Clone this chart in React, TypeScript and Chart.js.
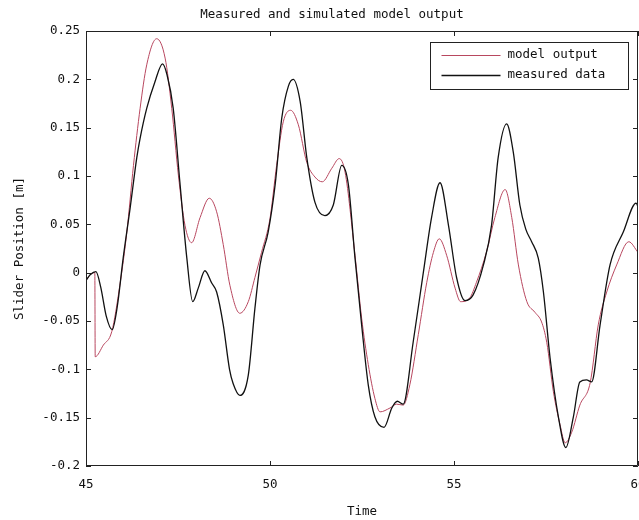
import React, { useEffect, useRef } from "react";
import { Chart, registerables } from "chart.js";

Chart.register(...registerables);

const titleText = "Measured and simulated model output";
const xTitle = "Time";
const yTitle = "Slider Position [m]";
const seriesLabels = ["model output", "measured data"];
const seriesColors = ["#b8475f", "#111111"];

const xTickValues = [45, 50, 55, 60];
const yTickValues = [-0.2, -0.15, -0.1, -0.05, 0, 0.05, 0.1, 0.15, 0.2, 0.25];

const measuredTime = [
  45.0, 45.12, 45.27, 45.4, 45.55, 45.71, 45.85, 46.01, 46.2, 46.38, 46.47, 46.65, 46.87, 47.08, 47.2,
  47.37, 47.55, 47.74, 47.9, 48.05, 48.23, 48.42, 48.55, 48.73, 48.9, 49.0, 49.18, 49.41, 49.59, 49.73,
  49.95, 50.14, 50.32, 50.5, 50.63, 50.82, 51.0, 51.22, 51.49, 51.72, 51.95, 52.13, 52.31, 52.49, 52.67,
  52.85, 53.1, 53.31, 53.46, 53.62, 53.89, 54.17, 54.39, 54.62, 54.85, 55.07, 55.3, 55.52, 55.8, 56.02,
  56.2, 56.43, 56.61, 56.79, 56.95, 57.11, 57.29, 57.43, 57.61, 57.84, 58.04, 58.24, 58.42, 58.6, 58.74,
  58.97, 59.24, 59.6, 59.95, 60.0,
];
const measuredValue = [
  -0.008, -0.002, 0.001, -0.015, -0.045, -0.059, -0.035, 0.015, 0.067, 0.119, 0.139, 0.17, 0.197, 0.216, 0.205,
  0.17, 0.094, 0.015, -0.03, -0.016, 0.002, -0.011, -0.02, -0.054, -0.1, -0.115, -0.127, -0.106, -0.037, 0.008,
  0.042, 0.091, 0.16, 0.193, 0.2, 0.177, 0.119, 0.073, 0.059, 0.07, 0.111, 0.091, 0.015, -0.054, -0.116,
  -0.149, -0.16, -0.14, -0.133, -0.136, -0.072, 0.001, 0.057, 0.093, 0.049, -0.005, -0.029, -0.023, 0.008, 0.049,
  0.119, 0.154, 0.125, 0.07, 0.045, 0.032, 0.015, -0.02, -0.088, -0.15, -0.181, -0.15, -0.113, -0.111, -0.113,
  -0.054, 0.008, 0.042, 0.072, 0.068,
];

const modelTime = [
  45.0, 45.12, 45.24, 45.25, 45.47, 45.7, 45.92, 46.11, 46.29, 46.47, 46.65, 46.92, 47.15, 47.33, 47.51,
  47.69, 47.87, 48.1, 48.35, 48.55, 48.73, 48.91, 49.18, 49.41, 49.59, 49.77, 50.0, 50.18, 50.36, 50.56,
  50.77, 51.0, 51.22, 51.42, 51.68, 51.88, 52.04, 52.31, 52.49, 52.67, 52.85, 52.99, 53.26, 53.44, 53.62,
  53.8, 54.03, 54.26, 54.44, 54.6, 54.8, 55.03, 55.18, 55.43, 55.61, 55.88, 56.11, 56.39, 56.57, 56.75,
  56.98, 57.2, 57.38, 57.52, 57.7, 57.88, 58.02, 58.2, 58.42, 58.7, 58.92, 59.15, 59.42, 59.75, 60.0,
];
const modelValue = [
  -0.008, -0.002, 0.0, -0.087, -0.075, -0.061, -0.013, 0.042, 0.111, 0.17, 0.215, 0.242, 0.222, 0.17, 0.101,
  0.049, 0.031, 0.057, 0.077, 0.063, 0.029, -0.013, -0.042, -0.03, -0.005, 0.021, 0.056, 0.111, 0.156, 0.168,
  0.153, 0.114, 0.099, 0.094, 0.108, 0.118, 0.104, 0.018, -0.047, -0.095, -0.13, -0.144, -0.14, -0.136, -0.137,
  -0.116, -0.064, -0.01, 0.021, 0.035, 0.018, -0.016, -0.03, -0.026, -0.01, 0.021, 0.057, 0.086, 0.057, 0.008,
  -0.03, -0.041, -0.051, -0.072, -0.123, -0.157, -0.176, -0.165, -0.137, -0.114, -0.054, -0.02, 0.008, 0.032, 0.021,
];

const FONT = "'DejaVu Sans Mono', 'Liberation Mono', monospace";

const framePlugin = {
  id: "matlabFrame",
  afterDraw(chart: any) {
    const { ctx, chartArea, scales } = chart;
    const { left, right, top, bottom } = chartArea;
    const xs = scales.x;
    const ys = scales.y;
    ctx.save();

    // title
    ctx.fillStyle = "#111";
    ctx.font = "12.5px " + FONT;
    ctx.textAlign = "center";
    ctx.textBaseline = "middle";
    ctx.fillText(titleText, 332, 15);

    ctx.strokeStyle = "#222";
    ctx.lineWidth = 1;
    ctx.beginPath();
    ctx.rect(Math.round(left) + 0.5, Math.round(top) + 0.5, Math.round(right - left) - 1, Math.round(bottom - top) - 1);
    ctx.stroke();
    const tl = 5;
    ctx.beginPath();
    xTickValues.forEach((v) => {
      const px = Math.round(xs.getPixelForValue(v)) + 0.5;
      ctx.moveTo(px, bottom);
      ctx.lineTo(px, bottom - tl);
      ctx.moveTo(px, top);
      ctx.lineTo(px, top + tl);
    });
    yTickValues.forEach((v) => {
      const py = Math.round(ys.getPixelForValue(v)) + 0.5;
      ctx.moveTo(left, py);
      ctx.lineTo(left + tl, py);
      ctx.moveTo(right, py);
      ctx.lineTo(right - tl, py);
    });
    ctx.stroke();

    // legend
    const bx = Math.round(right) - 208 + 0.5;
    const by = Math.round(top) + 11 + 0.5;
    const bw = 198;
    const bh = 47;
    ctx.fillStyle = "#fff";
    ctx.fillRect(bx, by, bw, bh);
    ctx.strokeStyle = "#222";
    ctx.strokeRect(bx, by, bw, bh);
    ctx.font = "12.5px " + FONT;
    ctx.textBaseline = "middle";
    ctx.textAlign = "left";
    seriesLabels.forEach((label, i) => {
      const ly = by + 12 + i * 20;
      ctx.strokeStyle = seriesColors[i];
      ctx.lineWidth = i === 0 ? 1 : 1.3;
      ctx.beginPath();
      ctx.moveTo(bx + 11, Math.round(ly) + 0.5);
      ctx.lineTo(bx + 70, Math.round(ly) + 0.5);
      ctx.stroke();
      ctx.fillStyle = "#111";
      ctx.fillText(label, bx + 77, ly);
    });
    ctx.restore();
  },
};

export default function App() {
  const canvasRef = useRef<HTMLCanvasElement | null>(null);

  useEffect(() => {
    const canvas = canvasRef.current;
    if (!canvas) return;
    const chart = new Chart(canvas, {
      type: "line",
      data: {
        datasets: [
          {
            label: seriesLabels[0],
            data: modelTime.map((t, i) => ({ x: t, y: modelValue[i] })),
            borderColor: seriesColors[0],
            borderWidth: 1,
            pointRadius: 0,
            cubicInterpolationMode: "monotone",
            order: 1,
          },
          {
            label: seriesLabels[1],
            data: measuredTime.map((t, i) => ({ x: t, y: measuredValue[i] })),
            borderColor: seriesColors[1],
            borderWidth: 1.3,
            pointRadius: 0,
            cubicInterpolationMode: "monotone",
            order: 0,
          },
        ],
      },
      options: {
        responsive: false,
        animation: false,
        devicePixelRatio: 1,
        events: [],
        layout: { padding: { left: 0, right: 22, top: 31, bottom: 0 } },
        plugins: {
          legend: { display: false },
          tooltip: { enabled: false },
          title: { display: false },
        },
        scales: {
          x: {
            type: "linear",
            min: 45,
            max: 60,
            afterBuildTicks: (scale: any) => {
              scale.ticks = xTickValues.map((v) => ({ value: v }));
            },
            afterFit: (scale: any) => {
              scale.height = 54;
            },
            grid: { display: false, drawTicks: false },
            border: { display: false },
            ticks: {
              color: "#111",
              font: { family: FONT, size: 12.5 },
              padding: 11,
              maxRotation: 0,
              autoSkip: false,
              callback: (v: any) => String(v),
            },
            title: {
              display: true,
              text: xTitle,
              color: "#111",
              font: { family: FONT, size: 12.5 },
              padding: { top: 0, bottom: 1 },
            },
          },
          y: {
            type: "linear",
            min: -0.2,
            max: 0.25,
            afterBuildTicks: (scale: any) => {
              scale.ticks = yTickValues.map((v) => ({ value: v }));
            },
            afterFit: (scale: any) => {
              scale.width = 86;
            },
            grid: { display: false, drawTicks: false },
            border: { display: false },
            ticks: {
              color: "#111",
              font: { family: FONT, size: 12.5 },
              padding: 6,
              autoSkip: false,
              callback: (v: any) => String(Math.round(Number(v) * 100) / 100),
            },
            title: {
              display: true,
              text: yTitle,
              color: "#111",
              font: { family: FONT, size: 12.5 },
              padding: { top: 12, bottom: 0 },
            },
          },
        },
      },
      plugins: [framePlugin],
    } as any);
    return () => chart.destroy();
  }, []);

  return (
    <div
      style={{
        position: "absolute",
        left: 0,
        top: 0,
        width: 639,
        height: 520,
        overflow: "hidden",
        background: "#fff",
      }}
    >
      <canvas ref={canvasRef} width={660} height={520} style={{ display: "block" }} />
    </div>
  );
}
